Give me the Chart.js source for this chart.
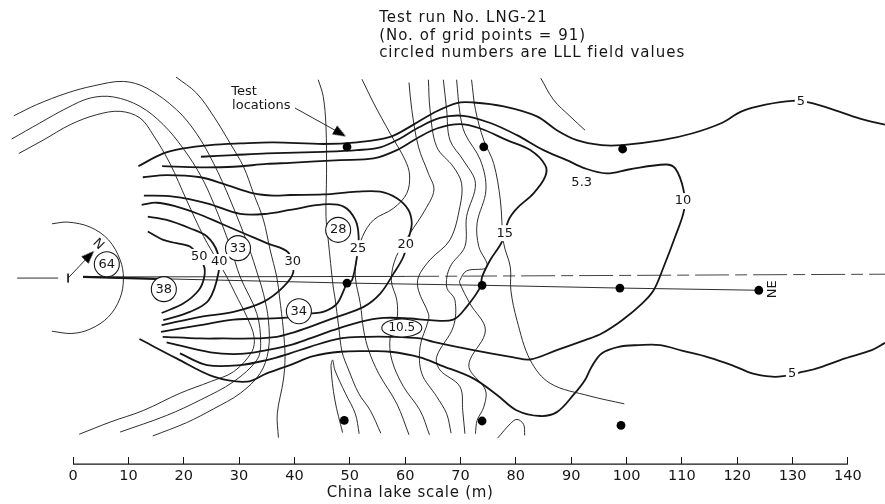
<!DOCTYPE html>
<html>
<head>
<meta charset="utf-8">
<title>LNG-21 contours</title>
<style>
  html, body { margin: 0; padding: 0; background: #fff; }
  canvas { display: block; }
</style>
<script src="https://cdn.jsdelivr.net/npm/chart.js@4/dist/chart.umd.min.js"></script>
</head>
<body>
<canvas id="contourChart" width="885" height="504"></canvas>
<script>
// Axis ticks along the China lake scale (m)
const xTicks = [0, 10, 20, 30, 40, 50, 60, 70, 80, 90, 100, 110, 120, 130, 140];

// Test locations, metres
const testLocations = [
    [49.5, 23.7], [74.2, 23.7], [99.3, 23.3],
    [49.5, -0.9], [73.9, -1.3], [98.8, -1.8], [123.9, -2.2],
    [49.0, -25.7], [73.9, -25.8], [99.0, -26.6]
];

// Thick contours (concentration)
const contour5Upper = [[11.8,20.2],[16.3,22.5],[19.9,23.4],[24.8,24.0],[30.2,24.3],[36.2,24.5],[45.2,24.2],[51.3,24.5],[57.3,25.5],[61.5,27.7],[65.1,29.8],[69.3,31.6],[72.3,31.7],[77.8,31.0],[83.8,29.2],[87.4,26.7],[91.0,24.9],[95.5,24.0],[99.2,24.0],[106.4,24.9],[111.8,26.1],[117.2,28.0],[120.8,30.1],[125.1,31.3],[129.9,32.0],[132.9,31.7],[138.3,30.1],[142.5,28.7],[146.7,27.7]];
const contour5Lower = [[12.0,-11.0],[18.7,-14.5],[25.4,-17.8],[31.4,-18.7],[35.0,-17.2],[39.2,-15.7],[43.4,-14.1],[48.3,-13.3],[53.7,-13.2],[57.3,-13.3],[62.7,-14.3],[66.3,-15.7],[72.3,-18.1],[76.6,-21.1],[80.2,-23.9],[84.4,-24.9],[87.4,-24.2],[90.4,-21.1],[92.5,-18.4],[93.7,-16.0],[95.5,-13.6],[98.6,-12.4],[102.2,-12.1],[106.1,-12.1],[110.0,-13.1],[114.8,-14.3],[119.0,-15.7],[122.7,-17.2],[126.3,-17.8],[128.3,-17.7],[131.1,-17.1],[134.1,-16.4],[139.5,-14.5],[144.3,-13.0],[146.7,-11.7]];
const contour10 = [[23.1,21.9],[29.0,22.2],[35.0,22.5],[45.2,22.8],[51.3,23.1],[55.5,23.6],[59.1,25.2],[62.1,27.0],[66.3,28.9],[70.5,29.3],[75.4,28.0],[80.2,25.8],[85.0,23.1],[89.2,21.3],[92.5,19.8],[96.4,18.9],[100.4,19.6],[107.0,20.5],[108.8,19.8],[110.3,15.9],[110.4,12.3],[108.8,7.5],[106.7,2.0],[104.9,-2.2],[102.8,-4.6],[99.2,-7.6],[95.5,-10.0],[92.5,-11.2],[87.4,-13.0],[82.6,-14.7],[79.6,-14.3],[72.3,-13.0],[65.1,-11.5],[62.7,-10.9],[57.3,-10.6],[53.1,-10.6],[48.3,-10.9],[42.8,-12.4],[39.2,-13.6],[35.0,-14.8],[30.2,-15.7],[24.2,-15.7],[19.3,-13.6]];
const contour15 = [[16.1,20.2],[23.0,20.0],[29.0,20.1],[35.0,20.6],[39.2,20.8],[48.3,21.3],[54.3,21.6],[58.5,23.1],[62.1,25.2],[65.7,27.0],[69.9,27.8],[73.6,27.0],[78.4,24.9],[82.6,23.1],[85.3,20.4],[85.3,18.3],[83.2,15.3],[80.2,12.6],[78.7,10.5],[77.5,6.6],[75.4,3.3],[73.9,0.2],[73.6,-1.6],[71.1,-5.2],[68.7,-7.5],[64.5,-7.6],[60.9,-7.3],[56.1,-7.2],[51.9,-7.9],[47.0,-9.4],[42.8,-10.9],[39.2,-12.1],[35.0,-13.0],[30.2,-13.7],[24.8,-13.4],[16.9,-11.6]];
const contour20 = [[12.6,18.2],[16.9,18.6],[23.0,18.2],[27.8,16.8],[32.6,15.3],[36.2,14.9],[39.2,15.0],[45.2,15.1],[51.3,15.6],[55.5,15.6],[58.5,14.4],[60.6,12.3],[61.2,9.9],[60.8,7.8],[59.7,3.9],[57.9,0.8],[55.5,-2.8],[52.5,-5.2],[47.7,-7.0],[42.8,-8.8],[39.2,-10.0],[36.8,-10.6],[32.6,-10.9],[27.2,-10.9],[23.0,-10.9],[16.2,-10.6]];
const contour25 = [[12.8,14.9],[18.1,14.7],[24.2,13.5],[30.2,11.6],[35.0,11.6],[39.2,12.3],[45.2,13.3],[48.9,12.9],[51.0,10.5],[51.6,7.5],[51.3,3.9],[50.4,-0.4],[49.5,-1.0],[47.7,-4.6],[45.2,-6.1],[42.8,-6.4],[38.0,-7.2],[29.0,-7.5],[23.0,-8.5],[15.9,-9.7]];
const contour30 = [[12.4,13.2],[15.1,13.6],[18.7,12.9],[22.3,11.7],[26.6,9.9],[30.8,8.1],[35.0,6.3],[38.9,4.6],[39.8,1.1],[38.0,-1.6],[34.4,-4.3],[29.0,-6.1],[23.0,-7.0],[16.0,-8.5]];
const contour40 = [[13.5,11.1],[16.9,10.5],[21.1,9.0],[24.2,7.5],[26.1,4.6],[26.3,1.1],[24.5,-4.0],[21.1,-6.1],[16.3,-7.6]];
const contour50 = [[13.5,8.4],[16.3,6.9],[18.7,6.3],[21.4,5.5],[23.6,2.3],[23.7,0.2],[22.7,-2.2],[19.9,-4.6],[16.0,-6.3]];

// Thin contours (LLL field)
const fieldA = [[-10.7,29.3],[-6.6,31.3],[-1.1,33.4],[3.7,34.7],[9.1,35.5],[13.3,34.3],[18.7,30.4],[22.3,26.1],[25.4,20.7],[28.4,14.1],[31.7,5.7],[33.5,0.2],[34.4,-2.8],[35.3,-7.6],[35.3,-13.0],[33.8,-17.2],[30.2,-20.8],[25.4,-23.6],[20.5,-26.1],[14.4,-28.5]];
const fieldB = [[-11.1,25.1],[-6.0,28.0],[-1.1,30.7],[3.1,32.5],[7.3,32.7],[12.1,31.0],[16.3,27.7],[19.9,23.4],[23.0,18.6],[25.4,13.5],[28.4,5.7],[30.2,0.2],[33.2,-6.4],[33.9,-11.8],[33.2,-14.8],[29.0,-18.7],[23.0,-22.0],[16.9,-24.8],[8.5,-27.8]];
const fieldC = [[-9.8,22.5],[-5.4,24.9],[-0.5,27.7],[4.3,29.5],[8.5,30.1],[12.1,28.9],[14.5,25.8],[17.5,20.7],[20.5,14.1],[23.6,7.5],[26.0,3.3],[27.8,0.2],[29.3,-2.8],[31.4,-7.0],[32.7,-10.6],[32.3,-13.3],[29.0,-16.9],[24.8,-18.7],[19.3,-20.8],[12.7,-23.9],[6.7,-26.0],[1.1,-28.2]];
const fieldD = [[18.6,36.3],[22.3,33.4],[25.4,29.2],[28.4,24.3],[30.8,20.1],[32.6,15.3],[34.4,10.5],[35.6,5.1],[36.8,0.2],[37.3,-3.4],[38.0,-9.4],[38.3,-14.2],[38.0,-18.4],[36.9,-24.5],[37.1,-28.8]];
const fieldE = [[44.3,35.8],[45.2,32.8],[45.7,27.3],[45.8,18.9],[45.7,11.1],[46.1,6.9],[47.0,-1.6],[47.3,-3.4],[48.0,-8.8],[48.6,-13.3],[49.8,-16.6],[51.6,-20.8],[53.7,-23.9],[55.6,-28.0]];
const fieldHairpin = [[48.7,-27.9],[47.3,-22.0],[46.6,-16.0],[46.9,-14.8],[47.3,-16.6],[49.2,-20.8],[51.0,-24.5],[51.7,-28.1]];
const fieldF = [[52.2,35.9],[54.3,31.6],[57.3,26.1],[60.0,21.3],[60.8,18.6],[60.3,15.3],[57.9,12.6],[54.3,10.5],[52.3,7.5],[51.3,3.9],[51.0,0.2],[51.9,-4.6],[52.5,-9.4],[53.4,-13.0],[55.2,-17.2],[58.5,-22.7],[60.7,-28.3]];
const fieldG = [[60.7,35.3],[61.2,30.4],[62.4,23.7],[64.2,18.9],[65.2,15.9],[63.6,12.3],[60.9,8.1],[58.4,3.9],[57.5,-0.4],[58.5,-4.0],[58.5,-7.6],[57.3,-10.6],[57.6,-14.8],[59.7,-19.6],[62.7,-23.9],[64.4,-28.3]];
const fieldH = [[64.2,35.8],[64.5,30.4],[65.7,23.7],[68.7,20.1],[70.2,17.1],[69.9,12.9],[68.1,6.9],[64.5,3.3],[62.4,0.2],[62.4,-2.2],[64.2,-6.4],[64.2,-7.6],[62.7,-12.4],[63.0,-17.2],[65.7,-21.4],[67.5,-24.5],[68.3,-28.0]];
const fieldI = [[66.9,35.8],[67.5,30.4],[68.1,24.9],[70.5,21.3],[72.7,17.1],[71.1,11.1],[70.8,5.7],[68.1,2.0],[67.5,-1.6],[69.0,-4.0],[68.7,-8.8],[65.7,-14.2],[66.3,-16.6],[69.9,-19.6],[70.4,-23.9],[70.8,-28.1]];
const fieldJ = [[69.3,35.8],[69.9,29.8],[70.8,26.1],[73.6,21.3],[74.6,15.9],[73.0,9.9],[73.3,5.7],[74.8,2.0],[71.1,1.3],[69.9,-0.4],[69.9,-1.0],[71.7,-4.6],[74.5,-9.4],[71.7,-14.8],[71.7,-16.6],[74.5,-20.2],[74.2,-23.3],[73.0,-25.7],[72.7,-28.1]];
const fieldK = [[72.0,35.8],[72.7,30.4],[74.2,24.9],[76.0,20.7],[77.2,14.1],[77.8,6.3],[79.0,2.0],[79.1,-2.2],[80.2,-7.6],[82.6,-14.8],[86.2,-19.0],[93.4,-21.3],[99.6,-22.7]];
const fieldTopRight = [[84.5,36.1],[86.8,32.2],[89.8,29.2],[92.5,26.7]];
const fieldHook = [[76.7,-28.9],[79.0,-26.3],[80.2,-25.5],[81.4,-26.4],[81.6,-28.4]];

// Site layout lines
const lakeCircle = [[-3.8,9.8],[-0.9,10.1],[3.1,9.2],[6.4,6.9],[8.5,3.3],[9.1,0],[8.5,-3.6],[6.4,-7.0],[3.1,-9.2],[-0.2,-10.0],[-3.8,-9.6]];
const centerStub = [[-10.1,0],[-2.7,0]];
const centerSolid = [[1.8,0.2],[60,0.3]];
const centerDashed = [[60,0.3],[146.7,0.7]];
const sensorLine = [[1.8,0.2],[49.5,-0.9],[73.9,-1.3],[98.8,-1.8],[123.9,-2.2]];
const sensorLineStart = [[1.8,0.2],[16.6,-0.2]];
const originCross = [[-0.9,0.8],[-0.9,-0.8]];
const northArrow = [[-0.9,0],[2.9,4.0]];
const northHead = [[2.9,4.0]];
const locationsArrow = [[40.1,30.7],[48.2,26.2]];
const locationsHead = [[48.2,26.2]];
const scaleLine = [[0,-33.6],[140,-33.6]];

// Circled LLL field values
const fieldValues = [['64',6.1,2.5],['38',16.4,-2.0],['33',29.8,5.4],['28',47.9,8.7],['34',40.8,-6.0]];
const ovalValue = ['10.5',59.4,-9.0];

// Contour labels
const contourLabels = [['50',22.8,3.8],['40',26.4,2.9],['30',39.7,2.9],['25',51.5,5.4],['20',60.1,6.0],['15',78.0,8.1],['10',110.2,13.9],['5.3',91.9,17.3],['5',131.5,31.8],['5',129.9,-17.2]];
const testLabels = [['Test',30.9,33.6],['locations',34.0,31.2]];
const titleLines = [['Test run No. LNG-21',55.3,47.0],['(No. of grid points = 91)',55.3,43.7],['circled numbers are LLL field values',55.3,40.6]];
const rotatedLabels = [['N',4.5,6.1,45],['NE',126.4,-2.0,-90]];
const axisName = ['China lake scale (m)',60.9,-38.8];

const INK = '#161616';
const FONT = '"DejaVu Sans", sans-serif';

const toPoints = arr => arr.map(p => ({ x: p[0], y: p[1] }));

// Narrow arrow head, tip up; the datasets rotate it
const arrowHead = document.createElement('canvas');
arrowHead.width = 14;
arrowHead.height = 14;
const headCtx = arrowHead.getContext('2d');
headCtx.fillStyle = '#000';
headCtx.beginPath();
headCtx.moveTo(7, 0);
headCtx.lineTo(12, 13);
headCtx.lineTo(2, 13);
headCtx.closePath();
headCtx.fill();

const lineSet = (arr, width, extra) => Object.assign({
    data: toPoints(arr),
    showLine: true,
    borderColor: INK,
    borderWidth: width,
    pointRadius: 0,
    tension: 0.35,
    order: 5
}, extra);

const thickLines = [contour5Upper, contour5Lower, contour10, contour15, contour20, contour25, contour30, contour40, contour50];
const thinLines = [fieldA, fieldB, fieldC, fieldD, fieldE, fieldHairpin, fieldF, fieldG, fieldH, fieldI, fieldJ, fieldK, fieldTopRight, fieldHook, lakeCircle];
const straightLines = [centerStub, centerSolid, sensorLine, originCross, northArrow, locationsArrow];

const datasets = [
    ...thinLines.map(l => lineSet(l, 0.9)),
    ...thickLines.map(l => lineSet(l, 1.8)),
    ...straightLines.map(l => lineSet(l, 0.9, { tension: 0 })),
    lineSet(centerDashed, 1, { tension: 0, borderDash: [34, 6, 12, 6], borderColor: '#444' }),
    lineSet(sensorLineStart, 2.2, { tension: 0 }),
    lineSet(scaleLine, 1.2, { tension: 0, clip: false }),
    {
        data: toPoints(testLocations),
        pointRadius: 4.4,
        pointBackgroundColor: '#000',
        pointBorderWidth: 0,
        order: 2
    },
    {
        data: toPoints(northHead),
        pointStyle: arrowHead,
        pointRotation: 45,
        pointRadius: 7,
        order: 2
    },
    {
        data: toPoints(locationsHead),
        pointStyle: arrowHead,
        pointRotation: 120,
        pointRadius: 7,
        order: 2
    },
    {
        data: fieldValues.map(v => ({ x: v[1], y: v[2] })),
        pointRadius: 12.5,
        pointBackgroundColor: '#fff',
        pointBorderColor: INK,
        pointBorderWidth: 1.1,
        order: 1
    }
];

// Text and the oval marker, placed through the chart's own scales
const notesPlugin = {
    id: 'notes',
    afterDatasetsDraw(chart) {
        const { ctx, scales: { x, y } } = chart;
        const px = v => x.getPixelForValue(v);
        const py = v => y.getPixelForValue(v);
        ctx.save();
        ctx.textBaseline = 'middle';
        ctx.textAlign = 'center';

        ctx.beginPath();
        ctx.ellipse(px(ovalValue[1]), py(ovalValue[2]), 20, 9, 0, 0, Math.PI * 2);
        ctx.fillStyle = '#fff';
        ctx.fill();
        ctx.lineWidth = 1.1;
        ctx.strokeStyle = INK;
        ctx.stroke();
        ctx.fillStyle = INK;

        ctx.font = '12px ' + FONT;
        ctx.fillText(ovalValue[0], px(ovalValue[1]), py(ovalValue[2]));
        ctx.font = '13px ' + FONT;
        fieldValues.forEach(v => ctx.fillText(v[0], px(v[1]), py(v[2])));

        contourLabels.forEach(v => {
            const w = ctx.measureText(v[0]).width + 4;
            ctx.fillStyle = '#fff';
            ctx.fillRect(px(v[1]) - w / 2, py(v[2]) - 8, w, 16);
            ctx.fillStyle = INK;
            ctx.fillText(v[0], px(v[1]), py(v[2]));
        });

        testLabels.forEach(v => ctx.fillText(v[0], px(v[1]), py(v[2])));

        rotatedLabels.forEach(v => {
            ctx.save();
            ctx.translate(px(v[1]), py(v[2]));
            ctx.rotate(v[3] * Math.PI / 180);
            ctx.fillText(v[0], 0, 0);
            ctx.restore();
        });

        ctx.font = '15px ' + FONT;
        ctx.letterSpacing = '0.7px';
        ctx.fillText(axisName[0], px(axisName[1]), py(axisName[2]));

        ctx.letterSpacing = '1px';
        ctx.textAlign = 'left';
        titleLines.forEach(v => ctx.fillText(v[0], px(v[1]), py(v[2])));
        ctx.restore();
    }
};

const ctx = document.getElementById('contourChart').getContext('2d');
new Chart(ctx, {
    type: 'scatter',
    data: { datasets: datasets },
    plugins: [notesPlugin],
    options: {
        responsive: false,
        animation: false,
        layout: { padding: 0, autoPadding: false },
        plugins: {
            legend: { display: false },
            tooltip: { enabled: false }
        },
        scales: {
            x: {
                type: 'linear',
                min: -13.2,
                max: 146.7,
                afterBuildTicks: scale => { scale.ticks = xTicks.map(v => ({ value: v })); },
                afterFit: scale => { scale.height = 47; },
                border: { display: false },
                grid: { drawOnChartArea: false, tickLength: 7, color: INK, lineWidth: 1 },
                ticks: {
                    maxRotation: 0,
                    autoSkip: false,
                    padding: 4,
                    color: INK,
                    font: { family: FONT, size: 14.5 }
                }
            },
            y: {
                display: false,
                min: -32.3,
                max: 50.2
            }
        }
    }
});
</script>
</body>
</html>
